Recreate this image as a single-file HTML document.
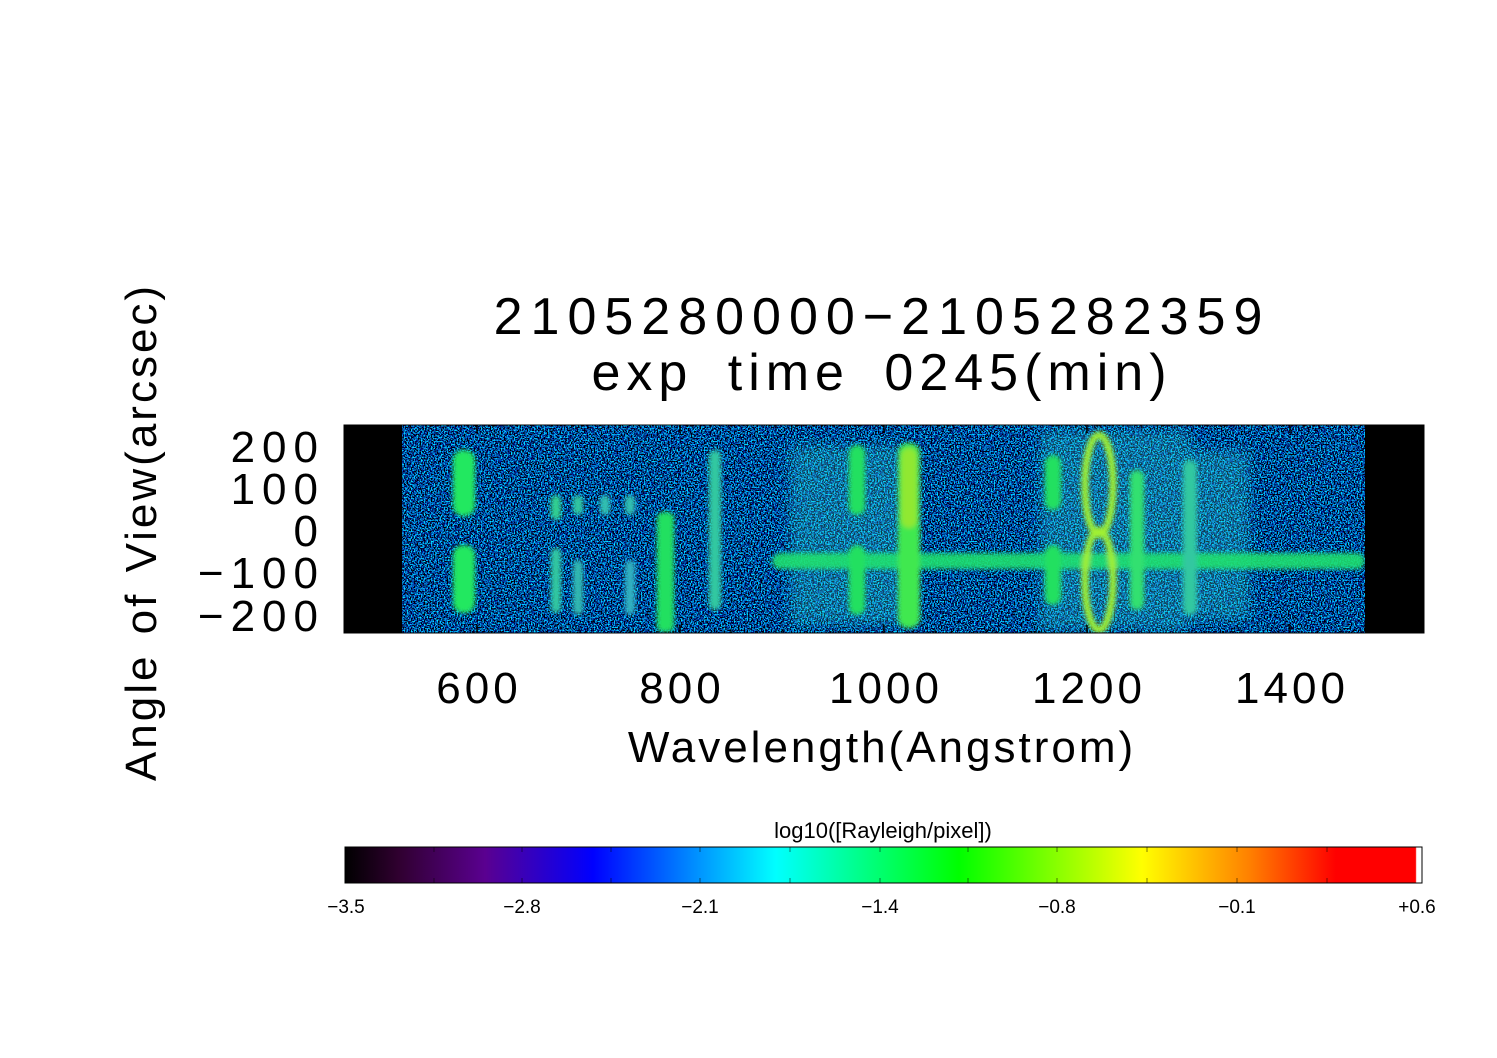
<!DOCTYPE html>
<html><head><meta charset="utf-8"><style>
body{margin:0;background:#fff;}
svg{display:block}
text{font-family:"Liberation Sans",sans-serif;fill:#000}
</style></head><body>
<svg width="1497" height="1058" viewBox="0 0 1497 1058" xmlns="http://www.w3.org/2000/svg">
<defs>
<filter id="noise" x="0" y="0" width="100%" height="100%">
<feTurbulence type="fractalNoise" baseFrequency="0.7" numOctaves="2" seed="3" result="t"/>
<feColorMatrix in="t" type="matrix" values="0 0 0 0 0  3.2 0 0 0 -1.55  4.5 0 0 0 -1.85  0 0 0 0 1"/>
</filter>
<filter id="bl" x="-50%" y="-50%" width="200%" height="200%"><feGaussianBlur stdDeviation="2.5"/></filter>
<filter id="bl2" x="-50%" y="-50%" width="200%" height="200%"><feGaussianBlur stdDeviation="6"/></filter>
<linearGradient id="cb" x1="0" x2="1" y1="0" y2="0">
<stop offset="0" stop-color="#000"/>
<stop offset="0.05" stop-color="#300030"/>
<stop offset="0.13" stop-color="#5a0090"/>
<stop offset="0.23" stop-color="#0000ff"/>
<stop offset="0.40" stop-color="#00ffff"/>
<stop offset="0.57" stop-color="#00ff00"/>
<stop offset="0.74" stop-color="#ffff00"/>
<stop offset="0.84" stop-color="#ff8000"/>
<stop offset="0.92" stop-color="#ff0000"/>
<stop offset="0.994" stop-color="#ff0000"/>
<stop offset="0.995" stop-color="#fff"/>
<stop offset="1" stop-color="#fff"/>
</linearGradient>
<clipPath id="pc"><rect x="402" y="425" width="963" height="208"/></clipPath>
</defs>

<text x="882" y="334" font-size="52" text-anchor="middle" letter-spacing="8">2105280000−2105282359</text>
<text x="882" y="390" font-size="52" text-anchor="middle" letter-spacing="6" word-spacing="14">exp time 0245(min)</text>

<rect x="344" y="425" width="1080" height="208" fill="#000"/>
<g clip-path="url(#pc)">
<rect x="402" y="425" width="963" height="208" fill="#000"/>
<rect x="402" y="425" width="963" height="208" filter="url(#noise)"/>
<g fill="#30d8d0" opacity="0.3" filter="url(#bl2)">
<rect x="790" y="445" width="120" height="180"/>
<rect x="1040" y="430" width="150" height="200"/>
<rect x="1190" y="450" width="60" height="170"/>
</g>
<g filter="url(#bl)">
<rect x="772" y="553" width="593" height="16" rx="8" fill="#20e070" opacity="0.9"/>
<rect x="453" y="450" width="22" height="66" rx="10" fill="#20e860"/>
<rect x="453" y="545" width="22" height="68" rx="10" fill="#20e860"/>
<rect x="657" y="512" width="17" height="120" rx="6" fill="#20e060"/>
<rect x="551" y="495" width="10" height="25" rx="5" fill="#30d090"/>
<rect x="551" y="548" width="10" height="65" rx="5" fill="#30c8a0"/>
<rect x="573" y="495" width="10" height="20" rx="5" fill="#30c8a0"/>
<rect x="573" y="560" width="10" height="55" rx="5" fill="#30b8b0"/>
<rect x="600" y="495" width="10" height="20" rx="5" fill="#30c0b0"/>
<rect x="625" y="495" width="10" height="20" rx="5" fill="#30c0b0"/>
<rect x="625" y="560" width="10" height="55" rx="5" fill="#30b0c0"/>
<rect x="709" y="450" width="12" height="160" rx="6" fill="#30c8a0"/>
<rect x="849" y="445" width="16" height="70" rx="8" fill="#20e060"/>
<rect x="849" y="545" width="16" height="70" rx="8" fill="#20e060"/>
<rect x="898" y="443" width="22" height="185" rx="10" fill="#40e850"/>
<rect x="901" y="448" width="16" height="80" rx="8" fill="#90e830"/>
<rect x="1045" y="455" width="16" height="55" rx="8" fill="#20e060"/>
<rect x="1045" y="545" width="16" height="60" rx="8" fill="#20e060"/>
<rect x="1130" y="470" width="14" height="140" rx="7" fill="#30e070"/>
<rect x="1183" y="460" width="14" height="155" rx="7" fill="#30c8a0"/>
<ellipse cx="1099" cy="485" rx="14" ry="50" fill="none" stroke="#a0f030" stroke-width="7"/>
<ellipse cx="1099" cy="580" rx="14" ry="50" fill="none" stroke="#a0f030" stroke-width="7"/>
</g>
</g>
<rect x="344" y="425" width="1080" height="208" fill="none" stroke="#000" stroke-width="1"/>
<g stroke="#000" stroke-width="1.5">
<path d="M344 447h10M344 489h10M344 531h10M344 573h10M344 616h10M1424 447h-10M1424 489h-10M1424 531h-10M1424 573h-10M1424 616h-10"/>
<path d="M477 633v-8M680 633v-8M884 633v-8M1087 633v-8M1290 633v-8M477 425v8M680 425v8M884 425v8M1087 425v8M1290 425v8"/>
</g>
<g stroke="#000" stroke-width="1">
<path d="M344 430h5M344 434h5M344 438h5M344 443h5M344 451h5M344 455h5M344 459h5M344 464h5M344 468h5M344 472h5M344 476h5M344 481h5M344 485h5M344 493h5M344 497h5M344 502h5M344 506h5M344 510h5M344 514h5M344 519h5M344 523h5M344 527h5M344 535h5M344 540h5M344 544h5M344 548h5M344 552h5M344 557h5M344 561h5M344 565h5M344 569h5M344 578h5M344 582h5M344 586h5M344 590h5M344 595h5M344 599h5M344 603h5M344 607h5M344 611h5M344 620h5M344 624h5M344 628h5"/>
<path d="M1424 430h-5M1424 434h-5M1424 438h-5M1424 443h-5M1424 451h-5M1424 455h-5M1424 459h-5M1424 464h-5M1424 468h-5M1424 472h-5M1424 476h-5M1424 481h-5M1424 485h-5M1424 493h-5M1424 497h-5M1424 502h-5M1424 506h-5M1424 510h-5M1424 514h-5M1424 519h-5M1424 523h-5M1424 527h-5M1424 535h-5M1424 540h-5M1424 544h-5M1424 548h-5M1424 552h-5M1424 557h-5M1424 561h-5M1424 565h-5M1424 569h-5M1424 578h-5M1424 582h-5M1424 586h-5M1424 590h-5M1424 595h-5M1424 599h-5M1424 603h-5M1424 607h-5M1424 611h-5M1424 620h-5M1424 624h-5M1424 628h-5"/>
<path d="M375 633v-4M426 633v-4M528 633v-4M579 633v-4M629 633v-4M731 633v-4M782 633v-4M833 633v-4M935 633v-4M986 633v-4M1036 633v-4M1138 633v-4M1189 633v-4M1240 633v-4M1341 633v-4M1392 633v-4"/>
</g>
<g font-size="44" text-anchor="end" letter-spacing="7">
<text x="325" y="462">200</text>
<text x="325" y="504">100</text>
<text x="325" y="546">0</text>
<text x="325" y="588">−100</text>
<text x="325" y="631">−200</text>
</g>
<g font-size="44" text-anchor="middle" letter-spacing="4">
<text x="479" y="703">600</text>
<text x="682" y="703">800</text>
<text x="886" y="703">1000</text>
<text x="1089" y="703">1200</text>
<text x="1292" y="703">1400</text>
</g>
<text x="882" y="762" font-size="44" text-anchor="middle" letter-spacing="3">Wavelength(Angstrom)</text>
<text transform="translate(156,532) rotate(-90)" font-size="44" text-anchor="middle" letter-spacing="3" word-spacing="4">Angle of View(arcsec)</text>

<text x="883" y="838" font-size="22" text-anchor="middle">log10([Rayleigh/pixel])</text>
<rect x="345" y="847" width="1077" height="36" fill="url(#cb)" stroke="#000" stroke-width="1"/>
<g stroke="#000" stroke-width="1" opacity="0.5">
<path d="M434 847v5M434 883v-5M522 847v5M522 883v-5M611 847v5M611 883v-5M700 847v5M700 883v-5M790 847v5M790 883v-5M880 847v5M880 883v-5M968 847v5M968 883v-5M1057 847v5M1057 883v-5M1147 847v5M1147 883v-5M1237 847v5M1237 883v-5M1327 847v5M1327 883v-5"/>
</g>
<g font-size="19" text-anchor="middle">
<text x="346" y="913">−3.5</text>
<text x="522" y="913">−2.8</text>
<text x="700" y="913">−2.1</text>
<text x="880" y="913">−1.4</text>
<text x="1057" y="913">−0.8</text>
<text x="1237" y="913">−0.1</text>
<text x="1417" y="913">+0.6</text>
</g>
</svg>
</body></html>
